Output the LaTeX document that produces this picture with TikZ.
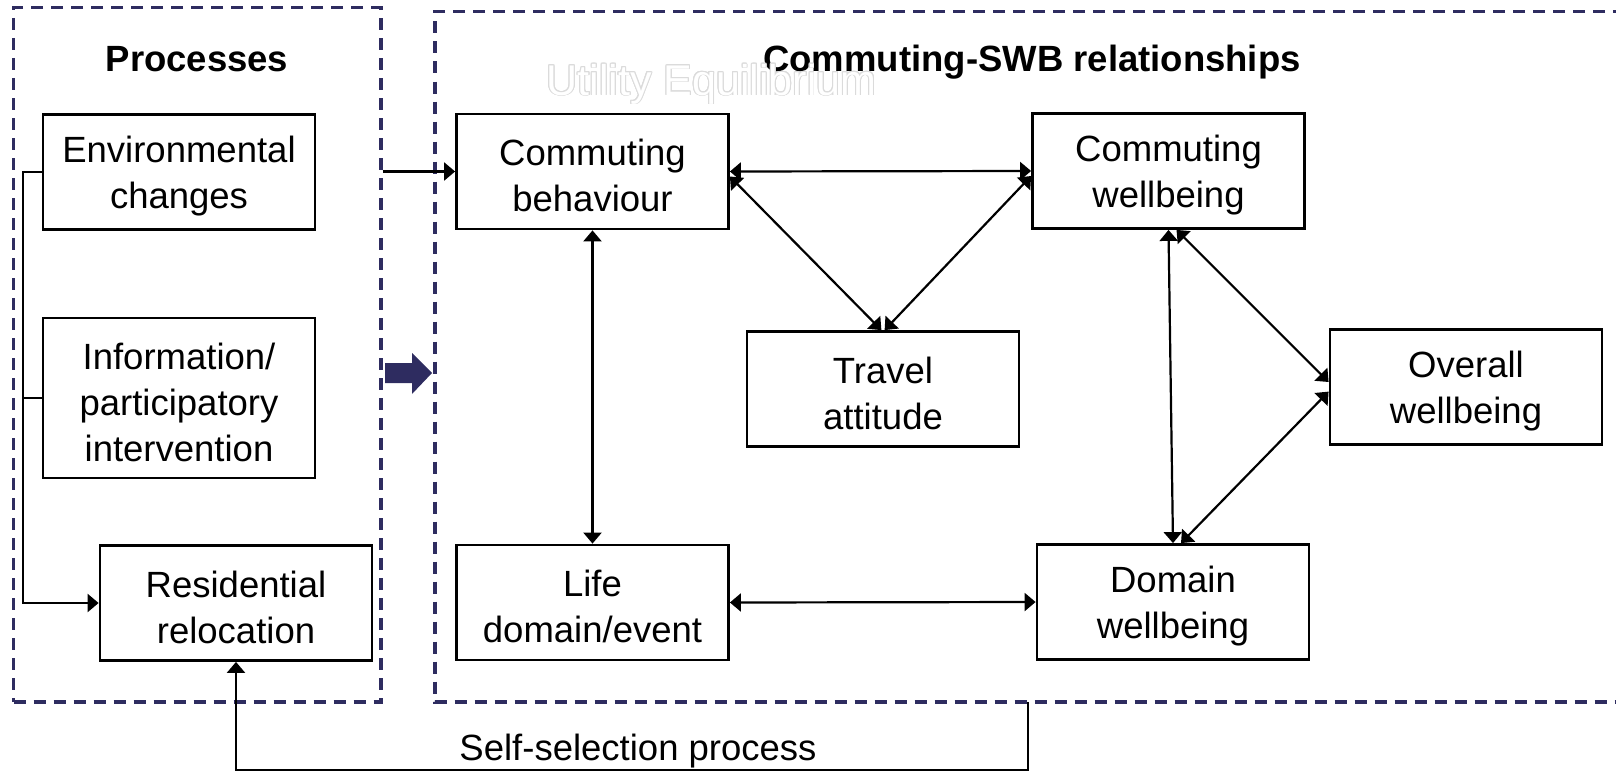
\documentclass[tikz,border=0pt]{standalone}
\usepackage{fontspec}
\setmainfont{Liberation Sans}
\usepackage[copies]{contour}
\usetikzlibrary{arrows.meta,fit}
\definecolor{framenavy}{RGB}{46,44,96}
\newcommand{\boxstrut}{\rule{0pt}{17.2pt}}
\tikzset{
  box/.style={draw, line width=1.4pt, minimum width=136pt, minimum height=57.5pt,
    inner sep=0pt, align=center, font=\fontsize{18.25}{23}\selectfont},
  frame/.style={draw=framenavy, line width=1.6pt, dash pattern=on 6pt off 4pt},
  wire/.style={line width=1.1pt},
  link/.style={wire, -{Triangle[length=5.5pt,width=9pt]}},
  twoway/.style={wire, {Triangle[length=5.5pt,width=9pt]}-{Triangle[length=5.5pt,width=9pt]}},
  title/.style={font=\fontsize{18.25}{23}\selectfont\bfseries, anchor=base}
}
\contourlength{0.45pt}
\contournumber{16}

\begin{document}
\begin{tikzpicture}[x=0.5pt, y=-0.5pt]
  \useasboundingbox (0,0) rectangle (1616,771);
  %
  \node[frame, fit={(13.5,7.5) (381,702)}, inner sep=0pt] (procframe) {}; % left frame
  \draw[frame] (1625,11.5) -- (435,11.5) -- (435,702) -- (1625,702);     % right frame, open
  %
  \node[title] (proctitle) at (197,71) {Processes};                        % titles
  \node[title] (reltitle) at (1032,71) {Commuting-SWB relationships};
  \node[font=\fontsize{21.5}{26}\selectfont, anchor=base] (mark) at (711.5,95)
    {\textcolor{white}{\contour{gray!28}{Utility Equilibrium}}};
  %
  \node[box] (env) at (179,172) {\boxstrut Environmental\\changes};       % processes
  \node[box, minimum height=80pt] (info) at (179,398) {\boxstrut Information/\\participatory\\intervention};
  \node[box] (res) at (236,603) {\boxstrut Residential\\relocation};
  %
  \node[box] (cbeh) at (592.5,171.5) {\boxstrut Commuting\\behaviour};   % relationships
  \node[box] (cwell) at (1168.5,171) {\boxstrut Commuting\\wellbeing};
  \node[box] (travel) at (883,389) {\boxstrut Travel\\attitude};
  \node[box] (overall) at (1466,387) {\boxstrut Overall\\wellbeing};
  \node[box] (life) at (592.5,602.5) {\boxstrut Life\\domain/event};
  \node[box] (dwell) at (1173,602) {\boxstrut Domain\\wellbeing};
  %
  \draw[link] (env.west) -- ++(-19,0) |- (res.west);                     % process links
  \draw[wire] (info.west) -- ++(-19,0);
  \draw[link] (procframe.east |- cbeh.west) -- (cbeh.west);
  \fill[framenavy] (385,363) -- (412,363) -- (412,353) -- (432,373)
    -- (412,394) -- (412,383) -- (385,383) -- cycle;                     % block arrow
  %
  \draw[twoway] (cbeh.east) -- (cwell.west);                             % relationship links
  \draw[twoway] ([yshift=-2.5pt]cbeh.east) -- ([xshift=-0.8pt]travel.north);
  \draw[twoway] ([yshift=-2.5pt]cwell.west) -- ([xshift=0.8pt]travel.north);
  \draw[twoway] (cbeh.south) -- (life.north);
  \draw[twoway] (life.east) -- (dwell.west);
  \draw[twoway] (cwell.south) -- (dwell.north);
  \draw[twoway] ([xshift=4pt]cwell.south) -- ([yshift=2.5pt]overall.west);
  \draw[twoway] ([xshift=4pt]dwell.north) -- ([yshift=-2.3pt]overall.west);
  %
  \coordinate (selftop) at (1028,702);                                   % self-selection
  \coordinate (selfbottom) at (1028,770);
  \draw[link] (selftop) -- (selfbottom) -| (res.south);
  \node[font=\fontsize{18.25}{23}\selectfont, anchor=base] (selftext) at (638,760) {Self-selection process};
\end{tikzpicture}
\end{document}
